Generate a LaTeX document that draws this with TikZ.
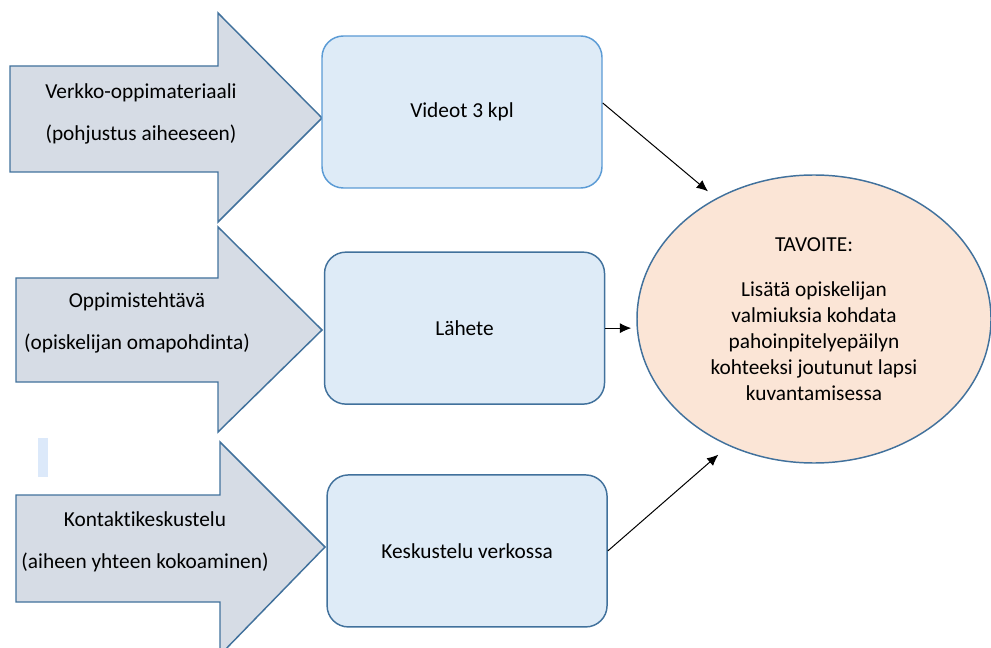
\documentclass[tikz,border=0pt]{standalone}
\usepackage{fontspec}
\setmainfont{Carlito}[Ligatures=NoCommon]
\usetikzlibrary{positioning,shapes.geometric,arrows.meta}
\definecolor{arrclr}{HTML}{D6DCE5}
\definecolor{edgeclr}{HTML}{41719C}
\definecolor{lightedgeclr}{HTML}{5B9BD5}
\definecolor{boxclr}{HTML}{DEEBF7}
\definecolor{goalclr}{HTML}{FBE5D6}
\definecolor{markclr}{HTML}{DCE9FA}
\tikzset{ %
  ,>={Latex[length=8.5pt,width=7.5pt]}
  ,every node/.style={font=\fontsize{16pt}{19.5pt}\selectfont}
  ,blockarr/.style={draw=edgeclr, fill=arrclr, line width=1.1pt, line join=miter}
  ,box/.style={draw=edgeclr, fill=boxclr, line width=1.1pt, rounded corners=16pt, minimum width=210pt, minimum height=114pt}
  ,goal/.style={draw=edgeclr, fill=goalclr, line width=1.1pt, ellipse, inner sep=0, minimum width=265.5pt, minimum height=216pt, align=center}
  ,lbl/.style={align=center}
  ,link/.style={->, line width=0.75pt}
}

\begin{document}
\begin{tikzpicture}[x=0.75pt, y=-0.75pt]
  \useasboundingbox (0,0) rectangle (991,648);
  % block arrows
  \draw[blockarr] (10,66) -- (218,66) -- (218,13) -- (322,118) -- (218,222) -- (218,172) -- (10,172) -- cycle;
  \draw[blockarr] (16,278) -- (218,278) -- (218,227) -- (322,330) -- (218,432) -- (218,382) -- (16,382) -- cycle;
  \draw[blockarr] (16,495) -- (220,495) -- (220,442) -- (325,547) -- (220,655) -- (220,602) -- (16,602) -- cycle;
  \fill[markclr] (38,438) rectangle (48,477);
  \node[lbl] (verkko) at (141,114) {Verkko-oppimateriaali\\[12pt](pohjustus aiheeseen)};
  \node[lbl] (tehtava) at (137,323) {Oppimistehtävä\\[12pt](opiskelijan omapohdinta)};
  \node[lbl] (kontakti) at (145,542) {Kontaktikeskustelu\\[12pt](aiheen yhteen kokoaminen)};
  % boxes
  \node[box, draw=lightedgeclr] (videot) at (462,112) {Videot 3 kpl};
  \node[box, below=47pt of videot, xshift=1.9pt] (lahete) {Lähete};
  \node[box, below=52pt of lahete, xshift=1.9pt] (keskustelu) {Keskustelu verkossa};
  % goal
  \node[goal] (tavoite) at (814,319) {TAVOITE:\\[14pt]Lisätä opiskelijan\\valmiuksia kohdata\\pahoinpitelyepäilyn\\kohteeksi joutunut lapsi\\kuvantamisessa};
  \draw[link, shorten >=8pt] ([yshift=6.75pt]videot.east) -- (tavoite.129);
  \draw[link, shorten >=3.75pt] (lahete.east) -- (lahete.east -| tavoite.west);
  \draw[link, shorten >=10pt] (keskustelu.east) -- (tavoite.236);
\end{tikzpicture}
\end{document}
